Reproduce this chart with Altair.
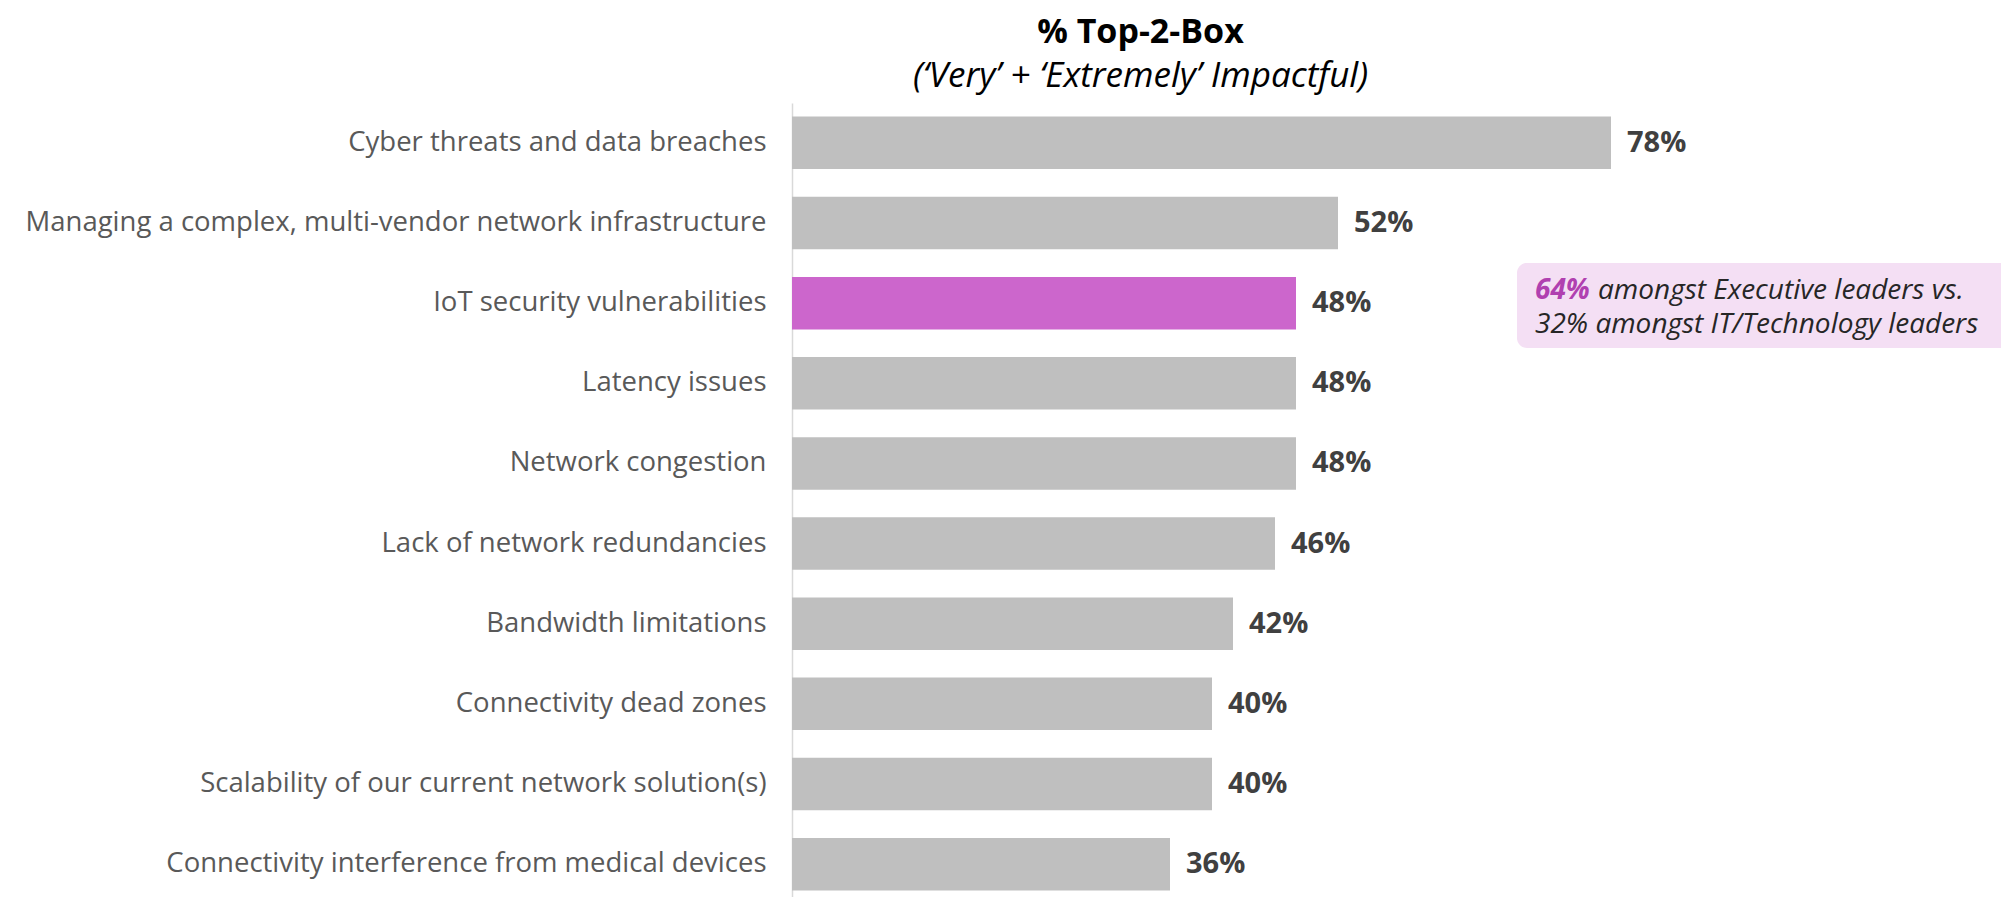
import altair as alt
import pandas as pd

categories = [
    "Cyber threats and data breaches",
    "Managing a complex, multi-vendor network infrastructure",
    "IoT security vulnerabilities",
    "Latency issues",
    "Network congestion",
    "Lack of network redundancies",
    "Bandwidth limitations",
    "Connectivity dead zones",
    "Scalability of our current network solution(s)",
    "Connectivity interference from medical devices",
]
values = [78, 52, 48, 48, 48, 46, 42, 40, 40, 36]
highlight = [False, False, True, False, False, False, False, False, False, False]
value_labels = [f"{v}%" for v in values]

note_bold = "64%"
note_line1 = "amongst Executive leaders vs."
note_line2 = "32% amongst IT/Technology leaders"

FONT = "Open Sans"

df = pd.DataFrame({"cat": categories, "val": values, "hl": highlight, "lbl": value_labels})
note_df = pd.DataFrame({"a": [1]})

y_enc = alt.Y("cat:N", sort=categories, title=None,
              scale=alt.Scale(paddingInner=0.345, paddingOuter=0.17),
              axis=alt.Axis(labelFont=FONT, labelFontSize=27.5, labelColor="#595959",
                            labelPadding=26, ticks=False, domainColor="#D9D9D9",
                            domainWidth=1.5, labelLimit=1000))
x_enc = alt.X("val:Q", scale=alt.Scale(domain=[0, 114], nice=False), axis=None, title=None)

bars = alt.Chart(df).mark_bar().encode(
    y=y_enc, x=x_enc,
    color=alt.Color("hl:N", scale=alt.Scale(domain=[False, True], range=["#BFBFBF", "#CC66CC"]), legend=None),
)

labels = alt.Chart(df).mark_text(align="left", baseline="middle", dx=16, font=FONT,
                                 fontSize=29, fontWeight="bold", color="#404040").encode(
    y=alt.Y("cat:N", sort=categories), x="val:Q", text="lbl:N")

box = alt.Chart(note_df).mark_rect(color="#F4DFF4", cornerRadius=10).encode(
    x=alt.value(725), x2=alt.value(1240), y=alt.value(160), y2=alt.value(245))

t1a = alt.Chart(note_df).mark_text(align="left", baseline="middle", font=FONT, fontSize=28,
                                   fontWeight="bold", fontStyle="italic", color="#B040B0").encode(
    x=alt.value(743), y=alt.value(188), text=alt.value(note_bold))
t1b = alt.Chart(note_df).mark_text(align="left", baseline="middle", font=FONT, fontSize=28,
                                   fontStyle="italic", color="#262626", dx=63).encode(
    x=alt.value(743), y=alt.value(188), text=alt.value(note_line1))
t2 = alt.Chart(note_df).mark_text(align="left", baseline="middle", font=FONT, fontSize=28,
                                  fontStyle="italic", color="#262626").encode(
    x=alt.value(743), y=alt.value(222), text=alt.value(note_line2))

chart = alt.layer(bars, labels, box, t1a, t1b, t2).properties(
    width=1197, height=801,
    title=alt.TitleParams(
        "% Top-2-Box",
        subtitle="(\u2018Very\u2019 + \u2018Extremely\u2019 Impactful)",
        anchor="middle", dx=-250, font=FONT, fontSize=34, fontWeight="bold", color="#000000",
        subtitleFont=FONT, subtitleFontSize=35, subtitleFontStyle="italic",
        subtitleColor="#000000", subtitlePadding=9, offset=9),
    autosize=alt.AutoSizeParams(type="none"),
    padding={"left": 784, "top": 95, "right": 12, "bottom": 0},
).configure_view(stroke=None)

chart.save("out.html", embed_options={"renderer": "svg", "actions": False})
